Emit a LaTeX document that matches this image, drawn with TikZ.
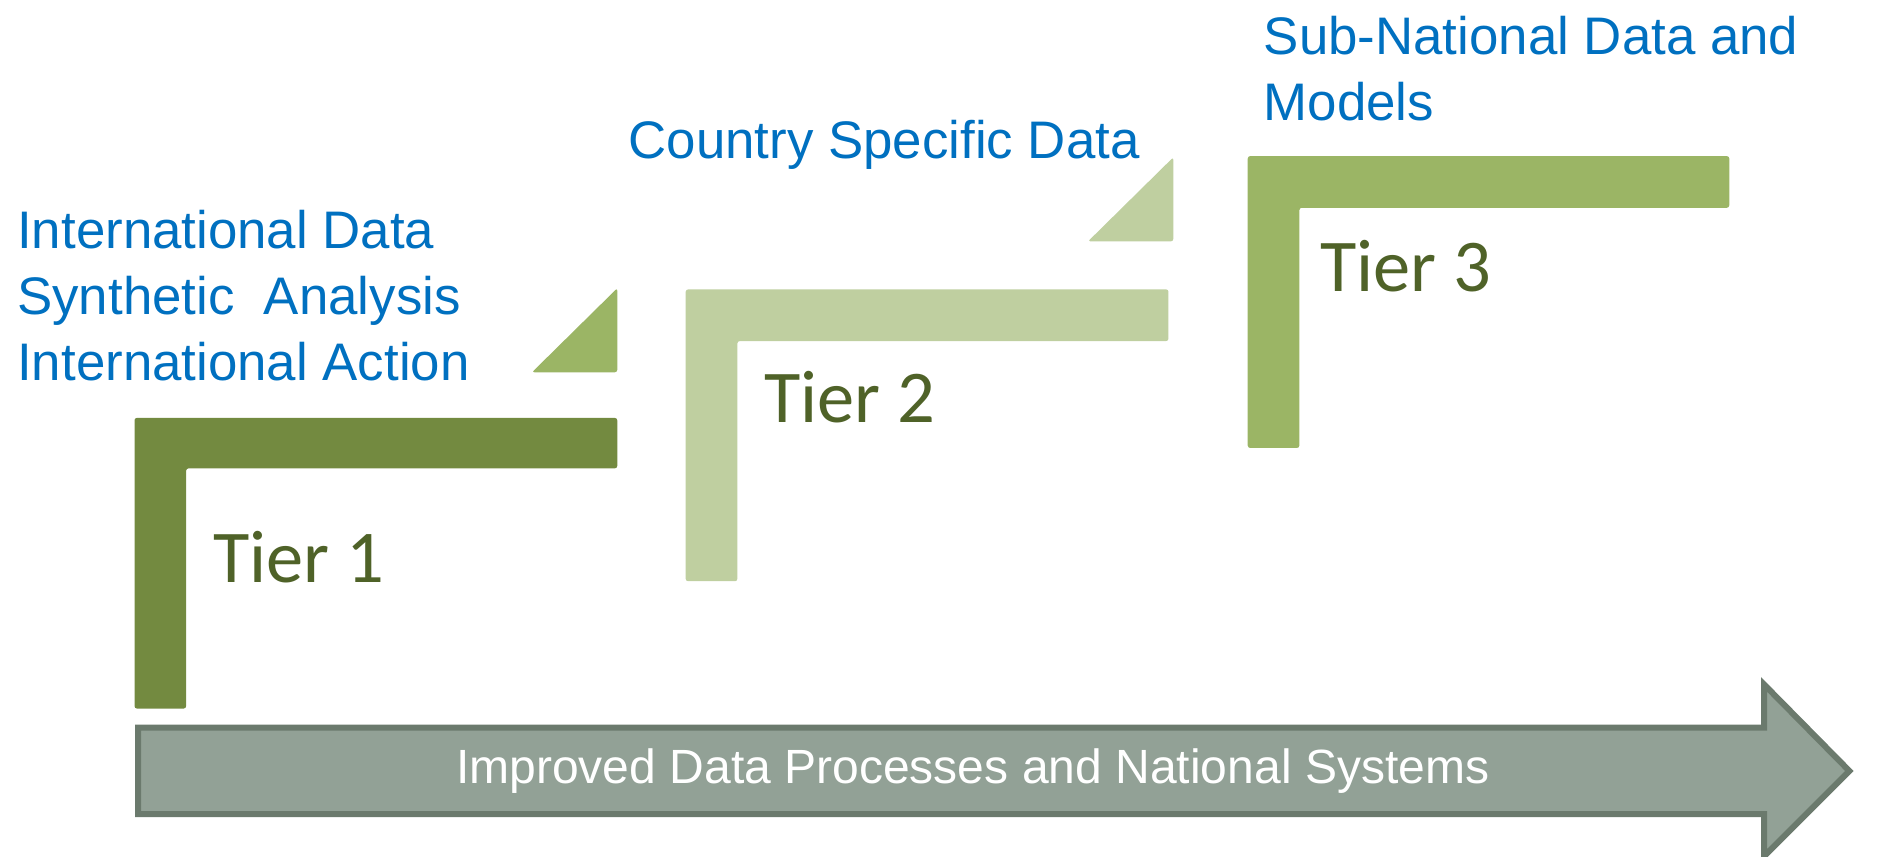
\documentclass[tikz,border=0pt]{standalone}
\usepackage{fontspec}
\setmainfont{Liberation Sans}
\newfontfamily\tierfont{Carlito}
\definecolor{oliveA}{HTML}{738A40}
\definecolor{oliveB}{HTML}{9BB565}
\definecolor{oliveC}{HTML}{BFCFA0}
\definecolor{oliveText}{HTML}{4F6228}
\definecolor{blueText}{HTML}{0070C0}
\definecolor{arrowFill}{HTML}{92A196}
\definecolor{arrowLine}{HTML}{6B7A6D}
\tikzset{
    tierlabel/.style={anchor=base west, inner sep=0pt, text=oliveText, font=\tierfont\fontsize{31}{37}\selectfont},
    bluelabel/.style={anchor=base west, inner sep=0pt, text=blueText, font=\fontsize{22}{27.5}\selectfont},
}
\begin{document}
\begin{tikzpicture}[x=0.5pt, y=0.5pt]
    \useasboundingbox (0,0) rectangle (1568,713);
    \begin{scope}
    \clip (0,0) rectangle (1568,713);
    % arrow along the bottom
    \coordinate (a0) at (115, 35);
    \coordinate (a1) at (1469, 35);
    \coordinate (a2) at (1469, 0);
    \coordinate (tip) at (1540, 71);
    \coordinate (a3) at (1469, 143);
    \coordinate (a4) at (1469, 107);
    \coordinate (a5) at (115, 107);
    \draw[fill=arrowFill, draw=arrowLine, line width=2.5pt] (a0) -- (a1) -- (a2) -- (tip) -- (a3) -- (a4) -- (a5) -- cycle;
    \end{scope}
    \node[text=white, font=\fontsize{20}{24}\selectfont] (improved) at (810, 71) {Improved Data Processes and National Systems};
    % tier 1
    \fill[oliveA, rounded corners=1pt] (112,123) -- (112,365) -- (514,365) -- (514,323) -- (155,323) -- (155,123) -- cycle;
    \fill[oliveB, rounded corners=1pt] (443,403) -- (514,473) -- (514,403) -- cycle;
    % tier 2
    \fill[oliveC, rounded corners=1pt] (571,229) -- (571,472) -- (973,472) -- (973,429) -- (614,429) -- (614,229) -- cycle;
    \fill[oliveC, rounded corners=1pt] (906,512) -- (977,582) -- (977,512) -- cycle;
    % tier 3
    \fill[oliveB, rounded corners=1pt] (1039,340) -- (1039,583) -- (1440,583) -- (1440,540) -- (1082,540) -- (1082,340) -- cycle;
    \node[tierlabel] (tier1) at (177,228) {Tier 1};
    \node[tierlabel] (tier2) at (636,361) {Tier 2};
    \node[tierlabel] (tier3) at (1099,470) {Tier 3};
    \node[bluelabel] (intdata) at (14,506) {International Data};
    \node[bluelabel] (synth) at (14,451) {Synthetic\ \ Analysis};
    \node[bluelabel] (intaction) at (14,396) {International Action};
    \node[bluelabel] (country) at (523,581) {Country Specific Data};
    \node[bluelabel] (subnat) at (1052,668) {Sub-National Data and};
    \node[bluelabel] (models) at (1052,613) {Models};
\end{tikzpicture}
\end{document}
